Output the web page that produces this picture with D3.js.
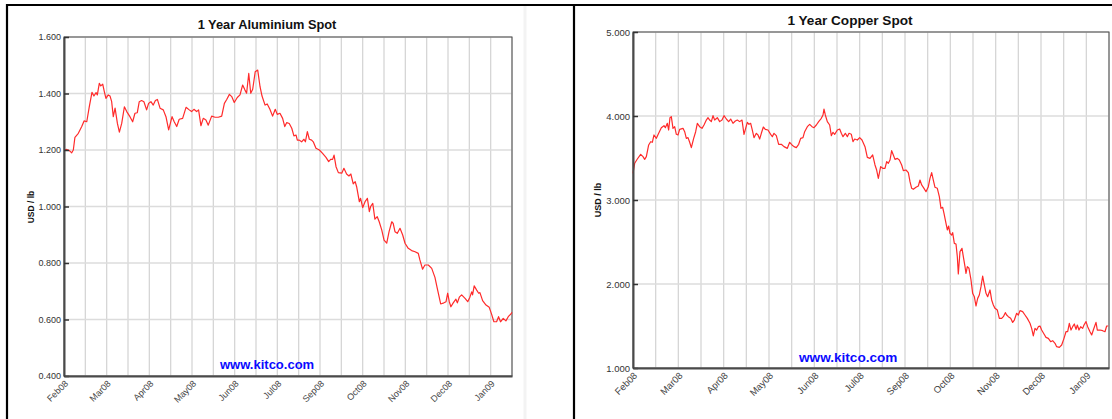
<!DOCTYPE html>
<html>
<head>
<meta charset="utf-8">
<script src="https://cdn.jsdelivr.net/npm/d3@7"></script>
<style>
  html, body { margin: 0; padding: 0; background: #fff; }
  svg { display: block; font-family: "Liberation Sans", Arial, sans-serif; }
</style>
</head>
<body>
<svg id="chart" width="1112" height="419"></svg>
<script>
// ---------- DATA ----------
const monthLabels = ["Feb08","Mar08","Apr08","May08","Jun08","Jul08","Sep08","Oct08","Nov08","Dec08","Jan09"];
const aluminiumTicks = [0.4, 0.6, 0.8, 1.0, 1.2, 1.4, 1.6];
const copperTicks = [1, 2, 3, 4, 5];
const dayCount = 250;   // trading days across the year
const gridCount = 21;   // vertical grid intervals

// [trading day, USD/lb]
const aluminium = [
[0,1.200],[1.5,1.202],[3.0,1.198],[4.3,1.190],[5.2,1.200],[6.1,1.245],[8.0,1.259],[9.9,1.283],[11.2,1.303],[12.7,1.300],
[14.1,1.353],[15.6,1.404],[16.7,1.391],[17.9,1.403],[18.6,1.395],[19.7,1.436],[20.5,1.427],[21.6,1.433],[22.5,1.407],[23.4,1.383],
[24.7,1.395],[25.7,1.391],[26.6,1.371],[27.5,1.318],[28.5,1.348],[29.8,1.294],[30.9,1.263],[32.2,1.294],[33.7,1.353],[35.0,1.336],
[36.8,1.318],[38.3,1.300],[39.6,1.330],[40.9,1.332],[42.0,1.371],[43.3,1.375],[44.6,1.371],[46.1,1.342],[47.2,1.365],[48.5,1.371],
[49.8,1.359],[51.0,1.375],[52.1,1.379],[53.6,1.348],[55.4,1.342],[56.9,1.318],[58.4,1.271],[60.3,1.318],[61.5,1.300],[62.9,1.283],
[64.3,1.309],[66.2,1.312],[68.1,1.351],[69.9,1.342],[71.2,1.336],[72.5,1.344],[74.0,1.336],[75.1,1.342],[76.4,1.286],[77.7,1.312],
[79.2,1.306],[80.5,1.288],[82.4,1.320],[84.3,1.316],[86.1,1.316],[88.0,1.320],[89.5,1.365],[90.8,1.379],[92.3,1.397],[93.6,1.389],
[95.0,1.368],[96.7,1.386],[98.2,1.395],[99.7,1.430],[101.0,1.412],[101.9,1.401],[103.1,1.471],[104.2,1.401],[105.3,1.415],[106.7,1.477],
[108.1,1.483],[109.4,1.424],[110.5,1.391],[112.2,1.359],[113.4,1.363],[114.9,1.344],[116.4,1.320],[117.9,1.344],[119.0,1.326],[120.5,1.330],
[122.0,1.312],[123.2,1.283],[124.3,1.297],[125.7,1.294],[127.1,1.277],[128.3,1.250],[129.5,1.253],[130.2,1.235],[131.3,1.235],[132.6,1.229],
[133.9,1.238],[134.7,1.229],[135.8,1.265],[136.9,1.238],[138.2,1.235],[139.1,1.229],[140.6,1.206],[142.5,1.200],[144.3,1.188],[146.2,1.174],
[147.7,1.159],[148.8,1.167],[149.9,1.167],[150.7,1.182],[151.8,1.141],[153.1,1.120],[155.0,1.118],[156.2,1.135],[157.7,1.115],[159.0,1.108],
[160.1,1.115],[161.4,1.080],[162.5,1.088],[163.3,1.070],[164.8,1.017],[165.5,1.029],[166.7,0.996],[168.0,1.017],[169.3,1.029],[170.4,0.982],
[171.1,1.000],[172.3,1.011],[173.5,0.955],[174.8,0.964],[175.9,0.946],[177.3,0.917],[178.6,0.881],[180.1,0.870],[181.4,0.911],[182.9,0.946],
[183.7,0.940],[184.7,0.911],[186.0,0.905],[187.5,0.923],[189.0,0.899],[190.3,0.870],[192.1,0.852],[194.0,0.844],[195.9,0.840],[197.7,0.834],
[198.6,0.811],[200.1,0.778],[201.4,0.793],[203.3,0.793],[205.2,0.781],[207.0,0.749],[208.3,0.710],[210.2,0.655],[212.0,0.659],[213.2,0.663],
[214.1,0.693],[215.0,0.663],[215.9,0.645],[217.2,0.659],[218.7,0.672],[219.5,0.659],[220.6,0.679],[221.9,0.687],[223.8,0.675],[225.3,0.663],
[226.5,0.679],[227.5,0.698],[228.0,0.687],[228.9,0.719],[230.3,0.704],[231.4,0.693],[232.1,0.695],[233.6,0.667],[235.5,0.651],[237.3,0.643],
[238.6,0.619],[239.9,0.592],[241.4,0.592],[242.5,0.610],[243.6,0.592],[245.1,0.604],[246.6,0.595],[247.9,0.610],[249.3,0.619],[250,0.625]
];

const copper = [
[0,3.318],[0.88,3.437],[2.28,3.488],[4.03,3.544],[5.25,3.516],[6.13,3.484],[7.0,3.516],[8.23,3.655],[9.28,3.694],[10.15,3.687],
[11.03,3.774],[12.25,3.734],[13.48,3.794],[14.88,3.861],[16.28,3.885],[16.98,3.861],[18.03,3.913],[18.73,3.833],[19.43,3.980],[20.13,3.992],
[21.0,3.853],[21.88,3.873],[22.76,3.782],[23.63,3.774],[24.51,3.841],[26.26,3.853],[27.14,3.813],[28.01,3.734],[28.89,3.742],[29.76,3.687],
[30.64,3.623],[31.86,3.734],[32.91,3.813],[33.79,3.913],[35.01,3.873],[36.24,3.853],[37.29,3.893],[38.51,3.952],[39.39,3.980],[40.26,3.952],
[41.14,3.933],[42.02,4.004],[42.89,3.952],[44.29,3.980],[45.52,3.933],[46.74,3.952],[47.79,4.004],[49.02,3.964],[50.24,3.933],[51.30,3.964],
[52.52,3.913],[53.74,3.940],[54.79,3.952],[56.02,3.933],[57.25,3.952],[58.30,3.782],[59.17,3.853],[60.05,3.925],[60.92,3.901],[61.80,3.913],
[62.67,3.833],[63.55,3.742],[64.77,3.794],[65.65,3.774],[66.53,3.726],[67.40,3.794],[68.45,3.869],[69.50,3.841],[70.90,3.833],[72.30,3.782],
[73.18,3.754],[74.05,3.794],[75.28,3.766],[76.50,3.663],[77.90,3.663],[79.31,3.635],[81.06,3.615],[82.28,3.687],[83.51,3.655],[84.56,3.635],
[85.78,3.623],[87.01,3.663],[88.06,3.734],[89.28,3.742],[90.16,3.813],[91.56,3.873],[92.79,3.901],[94.01,3.873],[95.06,3.861],[96.29,3.893],
[97.51,3.933],[98.91,3.972],[99.79,4.012],[100.31,4.083],[101.01,4.012],[102.06,3.933],[103.29,3.893],[104.16,3.766],[105.04,3.806],[105.92,3.782],
[107.32,3.833],[108.54,3.845],[109.42,3.794],[110.29,3.754],[111.52,3.794],[112.57,3.754],[113.44,3.794],[114.67,3.782],[115.54,3.694],[116.42,3.726],
[117.82,3.714],[119.05,3.742],[120.27,3.714],[121.85,3.635],[123.07,3.508],[124.47,3.496],[125.87,3.536],[127.10,3.417],[127.97,3.357],[128.85,3.258],
[130.07,3.397],[131.13,3.377],[132.35,3.377],[133.23,3.456],[134.10,3.437],[134.98,3.476],[135.85,3.587],[136.73,3.536],[137.60,3.484],[138.83,3.496],
[139.88,3.476],[141.11,3.417],[141.98,3.349],[143.38,3.357],[144.61,3.325],[145.48,3.218],[146.36,3.139],[147.23,3.127],[148.63,3.151],[149.86,3.167],
[150.73,3.238],[151.61,3.179],[152.83,3.139],[153.88,3.099],[155.11,3.159],[155.98,3.258],[156.86,3.325],[157.73,3.238],[158.61,3.151],[159.83,3.139],
[160.89,3.040],[161.76,2.901],[162.64,2.913],[163.34,2.841],[164.39,2.722],[165.09,2.643],[165.79,2.690],[166.49,2.603],[167.37,2.583],[167.89,2.611],
[168.76,2.484],[169.64,2.476],[170.34,2.325],[170.86,2.119],[171.74,2.385],[172.79,2.425],[173.49,2.325],[174.37,2.206],[174.89,2.127],[175.59,2.206],
[176.47,2.187],[177.52,2.048],[178.39,1.889],[179.27,1.849],[180.14,1.738],[181.02,1.829],[181.89,1.869],[182.77,1.968],[183.65,2.095],[184.35,2.008],
[185.40,1.889],[186.27,1.849],[187.50,1.929],[188.37,1.810],[189.25,1.750],[190.12,1.710],[191.35,1.690],[192.40,1.591],[193.63,1.591],[194.50,1.611],
[195.55,1.659],[196.25,1.631],[197.13,1.611],[198.35,1.591],[199.40,1.543],[200.28,1.571],[201.50,1.651],[202.38,1.631],[203.25,1.683],[204.65,1.671],
[205.88,1.631],[207.10,1.591],[208.50,1.532],[209.38,1.472],[210.25,1.381],[211.13,1.472],[212.01,1.452],[212.88,1.492],[213.76,1.500],[214.63,1.452],
[215.86,1.405],[216.91,1.365],[218.13,1.353],[219.36,1.313],[220.41,1.325],[221.64,1.294],[222.51,1.254],[223.91,1.246],[225.14,1.274],[226.36,1.353],
[227.41,1.432],[228.29,1.432],[229.16,1.532],[230.04,1.452],[230.91,1.492],[231.79,1.524],[232.67,1.460],[233.36,1.512],[234.24,1.452],[235.12,1.492],
[236.17,1.472],[236.87,1.512],[237.92,1.552],[238.79,1.492],[240.02,1.432],[240.90,1.393],[241.77,1.452],[243.17,1.543],[243.87,1.452],[245.27,1.452],
[246.67,1.444],[247.89,1.432],[248.77,1.500],[249.65,1.500]
];

// ---------- DRAWING ----------
const svg = d3.select("#chart");

// outer frame
const frame = svg.append("g");
frame.append("line").attr("x1", 6).attr("x2", 1112).attr("y1", 5).attr("y2", 5).attr("stroke", "#000").attr("stroke-width", 2.2);
frame.append("line").attr("x1", 7).attr("x2", 7).attr("y1", 4).attr("y2", 419).attr("stroke", "#000").attr("stroke-width", 2.2);
frame.append("line").attr("x1", 574).attr("x2", 574).attr("y1", 4).attr("y2", 419).attr("stroke", "#000").attr("stroke-width", 2.2);
frame.append("line").attr("x1", 525).attr("x2", 525).attr("y1", 6).attr("y2", 419).attr("stroke", "#f3f3f3").attr("stroke-width", 3);

function drawChart(cfg) {
  const g = svg.append("g");
  const x = d3.scaleLinear().domain([0, dayCount]).range([cfg.left, cfg.right]);
  const y = d3.scaleLinear().domain(cfg.domain).range([cfg.bottom, cfg.top]);
  const gridDays = d3.range(gridCount + 1).map(i => i * dayCount / gridCount);
  const labelDays = gridDays.filter((d, i) => i % 2 === 0 && i / 2 < monthLabels.length);

  // vertical grid
  g.append("g").selectAll("line").data(gridDays).join("line")
    .attr("x1", d => x(d)).attr("x2", d => x(d))
    .attr("y1", cfg.top).attr("y2", cfg.bottom)
    .attr("stroke", "#d6d6d6").attr("stroke-width", 1.3);
  // horizontal grid
  g.append("g").selectAll("line").data(cfg.ticks).join("line")
    .attr("x1", cfg.left).attr("x2", cfg.right)
    .attr("y1", d => y(d)).attr("y2", d => y(d))
    .attr("stroke", "#dcdcdc").attr("stroke-width", 1.6);

  // plot border (top/right)
  g.append("rect").attr("x", cfg.left).attr("y", cfg.top)
    .attr("width", cfg.right - cfg.left).attr("height", cfg.bottom - cfg.top)
    .attr("fill", "none").attr("stroke", "#4a4a4a").attr("stroke-width", 1);

  // line
  const line = d3.line().x(d => x(d[0])).y(d => y(d[1]));
  g.append("path").datum(cfg.data).attr("d", line)
    .attr("fill", "none").attr("stroke", "#ff2a2a").attr("stroke-width", 1.2)
    .attr("stroke-linejoin", "round");

  // y axis
  const yAxis = d3.axisLeft(y).tickValues(cfg.ticks).tickFormat(d3.format(".3f"))
    .tickSizeInner(-5).tickSizeOuter(0).tickPadding(3);
  const ya = g.append("g").attr("transform", `translate(${cfg.left},0)`).call(yAxis);
  ya.select(".domain").attr("stroke", "#4a4a4a").attr("stroke-width", 2);
  ya.selectAll(".tick line").attr("stroke", "#333").attr("stroke-width", 1.5);
  ya.selectAll(".tick text").attr("fill", "#333").style("font-size", cfg.tickFont + "px")
    .style("font-family", "Liberation Sans, Arial, sans-serif");

  // x axis
  const xAxis = d3.axisBottom(x).tickValues(labelDays)
    .tickFormat((d, i) => monthLabels[i]).tickSize(0).tickPadding(0);
  const xa = g.append("g").attr("transform", `translate(0,${cfg.bottom})`).call(xAxis);
  xa.select(".domain").attr("stroke", "#4a4a4a").attr("stroke-width", 2);
  xa.selectAll(".tick text")
    .attr("y", 0).attr("dy", "0.35em")
    .attr("text-anchor", "end")
    .attr("transform", "translate(2,6) rotate(-45)")
    .attr("fill", "#444").style("font-size", cfg.tickFont + "px")
    .style("font-family", "Liberation Sans, Arial, sans-serif");

  // title
  g.append("text").attr("x", cfg.titleX).attr("y", cfg.titleY)
    .attr("text-anchor", "middle").attr("font-weight", "bold")
    .attr("font-size", cfg.titleFont).attr("fill", "#111").text(cfg.title);

  // y axis label
  g.append("text").attr("transform", `translate(${cfg.ylabelX},${cfg.ylabelY}) rotate(-90)`)
    .attr("text-anchor", "middle").attr("font-weight", "bold")
    .attr("font-size", cfg.ylabelFont).attr("fill", "#111").text("USD / lb");

  // watermark
  g.append("text").attr("x", cfg.kitcoX).attr("y", cfg.kitcoY)
    .attr("font-weight", "bold").attr("font-size", cfg.kitcoFont)
    .attr("fill", "#0a0aff").text("www.kitco.com");
}

drawChart({
  left: 64, right: 512, top: 37, bottom: 376,
  domain: [0.4, 1.6], ticks: aluminiumTicks, data: aluminium,
  title: "1 Year Aluminium Spot", titleX: 267, titleY: 29, titleFont: 12.8,
  tickFont: 9, ylabelX: 34, ylabelY: 207, ylabelFont: 8.5,
  kitcoX: 220, kitcoY: 369, kitcoFont: 13
});

drawChart({
  left: 633, right: 1109, top: 32, bottom: 368,
  domain: [1, 5], ticks: copperTicks, data: copper,
  title: "1 Year Copper Spot", titleX: 850, titleY: 25, titleFont: 13.6,
  tickFont: 9.5, ylabelX: 601, ylabelY: 200, ylabelFont: 9,
  kitcoX: 799, kitcoY: 361.5, kitcoFont: 13.6
});
</script>
</body>
</html>
